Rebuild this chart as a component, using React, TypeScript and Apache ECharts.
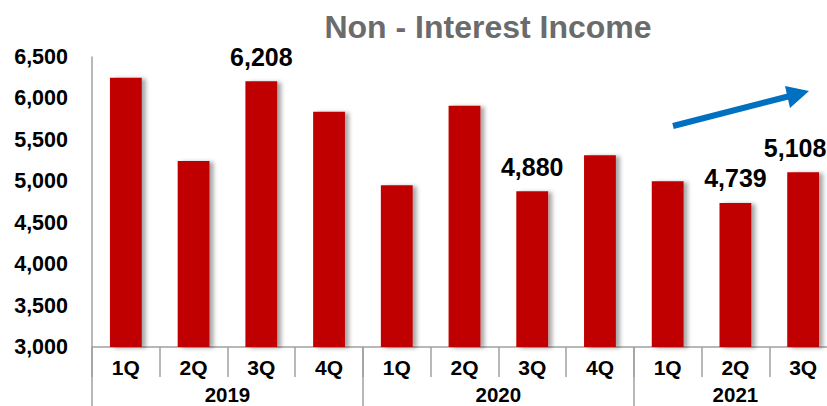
import React, { useEffect, useRef } from "react";
import * as echarts from "echarts";

const quarters = ["1Q", "2Q", "3Q", "4Q", "1Q", "2Q", "3Q", "4Q", "1Q", "2Q", "3Q"];
const values = [6250, 5245, 6208, 5840, 4951, 5912, 4880, 5314, 5000, 4739, 5108];
const labeledIndices = [2, 6, 9, 10];
const years = ["2019", "2020", "2021"];
const quartersPerYear = [4, 4, 3];
const yTicks = { min: 3000, max: 6500, interval: 500 };

const FONT = "'Liberation Sans', Arial, sans-serif";

export default function App() {
  const ref = useRef<HTMLDivElement>(null);
  useEffect(() => {
    document.body.style.margin = "0";
    if (!ref.current) return;
    const chart = echarts.init(ref.current, undefined, { renderer: "svg" });

    const boundaries: number[] = [0];
    const centers: number[] = [];
    let acc = 0;
    quartersPerYear.forEach((n) => {
      centers.push(acc + n / 2);
      acc += n;
      boundaries.push(acc);
    });

    const data = values.map((v, i) => ({
      value: v,
      label: {
        show: labeledIndices.includes(i),
        offset: i === values.length - 1 ? [-8, 0] : [0, 0],
      },
    }));

    chart.setOption({
      animation: false,
      title: {
        text: "Non - Interest Income",
        left: 483,
        textAlign: "center",
        top: 6,
        textStyle: { fontFamily: FONT, fontSize: 32, fontWeight: "bold", color: "#6b6b6b" },
      },
      grid: { left: 92, top: 57, width: 745, height: 290, outerBoundsMode: "none", containLabel: false },
      xAxis: [
        {
          type: "category",
          data: quarters,
          position: "bottom",
          axisLine: { show: true, lineStyle: { color: "#a0a0a0", width: 1.5 } },
          axisTick: { show: true, interval: 0, length: 30, lineStyle: { color: "#a0a0a0", width: 1.5 } },
          axisLabel: { interval: 0, margin: 10, fontFamily: FONT, fontSize: 21, fontWeight: "bold", color: "#000" },
        },
        {
          type: "value",
          min: 0,
          max: quarters.length,
          position: "bottom",
          splitLine: { show: false },
          axisLine: { show: false },
          axisTick: {
            show: true,
            length: 59,
            customValues: boundaries,
            lineStyle: { color: "#a0a0a0", width: 1.5 },
          },
          axisLabel: {
            show: true,
            margin: 37,
            lineHeight: 20,
            customValues: centers,
            formatter: (v: number) => {
              const i = centers.findIndex((c) => Math.abs(c - v) < 1e-6);
              return i >= 0 ? years[i] : "";
            },
            fontFamily: FONT,
            fontSize: 20.5,
            fontWeight: "bold",
            color: "#000",
          },
        },
      ],
      yAxis: {
        type: "value",
        min: yTicks.min,
        max: yTicks.max,
        interval: yTicks.interval,
        splitLine: { show: false },
        axisLine: { show: true, lineStyle: { color: "#a0a0a0", width: 1.5 } },
        axisTick: { show: false },
        axisLabel: {
          margin: 24,
          fontFamily: FONT,
          fontSize: 21.5,
          fontWeight: "bold",
          color: "#000",
          formatter: (v: number) => v.toLocaleString("en-US"),
        },
      },
      series: [
        {
          type: "bar",
          xAxisIndex: 0,
          data,
          barWidth: "47%",
          itemStyle: {
            color: "#C00000",
            shadowColor: "rgba(0,0,0,0.35)",
            shadowBlur: 4,
            shadowOffsetX: 4,
            shadowOffsetY: 1,
          },
          label: {
            show: false,
            position: "top",
            distance: 12,
            fontFamily: FONT,
            fontSize: 25,
            fontWeight: "bold",
            color: "#000",
            formatter: (p: any) => Number(p.value).toLocaleString("en-US"),
          },
        },
      ],
      graphic: [
        {
          type: "line",
          shape: { x1: 673, y1: 126, x2: 790, y2: 96 },
          style: { stroke: "#0070C0", lineWidth: 6 },
        },
        {
          type: "polygon",
          shape: { points: [[809, 91], [785, 86], [790, 108]] },
          style: { fill: "#0070C0" },
        },
      ],
    });
    return () => chart.dispose();
  }, []);
  return <div ref={ref} style={{ width: 827, height: 406 }} />;
}
